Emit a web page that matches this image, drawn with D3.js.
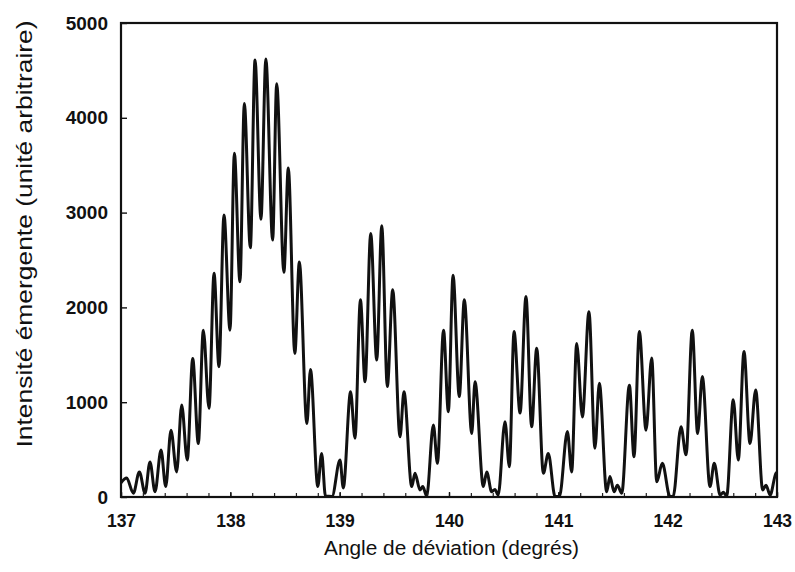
<!DOCTYPE html>
<html>
<head>
<meta charset="utf-8">
<script src="https://cdn.jsdelivr.net/npm/d3@7"></script>
<style>
  html, body { margin: 0; padding: 0; background: #fff; }
  svg { display: block; }
</style>
</head>
<body>
<svg id="chart" width="795" height="572"></svg>
<script>
// Angle de déviation (degrés) at each local extremum of the curve
const angles = [
  137.000, 137.052, 137.113, 137.168, 137.220, 137.265, 137.311, 137.366, 137.409, 137.457,
  137.509, 137.555, 137.606, 137.656, 137.707, 137.753, 137.805, 137.851, 137.896, 137.942,
  137.997, 138.037, 138.088, 138.128, 138.183, 138.226, 138.280, 138.325, 138.387, 138.424,
  138.490, 138.530, 138.590, 138.631, 138.700, 138.733, 138.800, 138.835, 138.870, 138.930,
  139.003, 139.033, 139.100, 139.140, 139.190, 139.232, 139.284, 139.339, 139.385, 139.436,
  139.485, 139.552, 139.588, 139.659, 139.689, 139.735, 139.760, 139.796, 139.857, 139.894,
  139.950, 139.994, 140.037, 140.094, 140.140, 140.208, 140.238, 140.314, 140.345, 140.390,
  140.420, 140.450, 140.512, 140.552, 140.595, 140.650, 140.704, 140.756, 140.802, 140.863,
  140.908, 140.970, 141.010, 141.083, 141.122, 141.168, 141.220, 141.280, 141.335, 141.375,
  141.442, 141.472, 141.510, 141.540, 141.580, 141.650, 141.692, 141.741, 141.802, 141.854,
  141.900, 141.951, 142.021, 142.050, 142.122, 142.168, 142.225, 142.274, 142.317, 142.387,
  142.426, 142.480, 142.510, 142.540, 142.600, 142.646, 142.698, 142.753, 142.805, 142.869,
  142.900, 142.937, 142.990, 143.000
];
// Intensité émergente (unité arbitraire)
const intensities = [
  150, 200, 40, 265, 40, 370, 55, 495, 110, 705,
  265, 970, 390, 1460, 565, 1760, 935, 2360, 1375, 2975,
  1760, 3625, 2270, 4150, 2630, 4610, 2930, 4620, 2710, 4360,
  2370, 3470, 1515, 2480, 775, 1345, 110, 460, 10, 5,
  390, 95, 1110, 620, 2080, 1215, 2780, 1445, 2860, 1165,
  2185, 635, 1110, 110, 250, 75, 110, 10, 760, 355,
  1760, 900, 2340, 1060, 2080, 670, 1215, 110, 265, 55,
  80, 20, 795, 320, 1745, 885, 2115, 740, 1570, 250,
  460, 5, 5, 690, 265, 1620, 845, 1955, 515, 1200,
  55, 215, 55, 125, 40, 1180, 425, 1745, 705, 1465,
  160, 355, 5, 5, 740, 445, 1760, 670, 1270, 110,
  355, 20, 50, 10, 1025, 390, 1535, 565, 1130, 75,
  125, 20, 250, 260
];
const xTicks = [137, 138, 139, 140, 141, 142, 143];
const xMinorTicks = d3.range(137, 143.001, 0.2).map(v => +v.toFixed(1));
const yTicks = [0, 1000, 2000, 3000, 4000, 5000];
const xTitle = "Angle de déviation (degrés)";
const yTitle = "Intensité émergente (unité arbitraire)";

const svg = d3.select("#chart");
const mLeft = 121, mRight = 777, mTop = 23, mBottom = 497;
const x = d3.scaleLinear().domain([137, 143]).range([mLeft, mRight]);
const y = d3.scaleLinear().domain([0, 5000]).range([mBottom, mTop]);

svg.append("rect").attr("width", 795).attr("height", 572).attr("fill", "#fff");

const data = angles.map((a, i) => ({ a, v: intensities[i] }));

// curve
svg.append("path")
  .datum(data)
  .attr("fill", "none")
  .attr("stroke", "#111")
  .attr("stroke-width", 3)
  .attr("stroke-linejoin", "round")
  .attr("d", d3.line().x(d => x(d.a)).y(d => y(d.v)).curve(d3.curveMonotoneX));

// minor x ticks
const gxm = svg.append("g").attr("transform", `translate(0,${mBottom})`)
  .call(d3.axisBottom(x).tickValues(xMinorTicks).tickSize(-4).tickFormat(""));
gxm.select(".domain").remove();
gxm.selectAll("line").attr("stroke", "#222").attr("stroke-width", 1.2);

// x axis
const gx = svg.append("g").attr("transform", `translate(0,${mBottom})`)
  .call(d3.axisBottom(x).tickValues(xTicks).tickSize(-5).tickPadding(18).tickFormat(d3.format("d")));
gx.select(".domain").remove();
gx.selectAll("line").attr("stroke", "#111").attr("stroke-width", 1.4);
gx.selectAll("text")
  .attr("fill", "#111")
  .style("font-family", "'Liberation Sans', Arial, sans-serif")
  .style("font-weight", "bold")
  .style("font-size", "17.5px");

// y axis
const gy = svg.append("g").attr("transform", `translate(${mLeft},0)`)
  .call(d3.axisLeft(y).tickValues(yTicks).tickSize(-6).tickPadding(13).tickFormat(d3.format("d")));
gy.select(".domain").remove();
gy.selectAll("line").attr("stroke", "#111").attr("stroke-width", 1.4);
gy.selectAll("text")
  .attr("fill", "#111")
  .style("font-family", "'Liberation Sans', Arial, sans-serif")
  .style("font-weight", "bold")
  .style("font-size", "19px");

// frame
svg.append("rect")
  .attr("x", mLeft).attr("y", mTop)
  .attr("width", mRight - mLeft).attr("height", mBottom - mTop)
  .attr("fill", "none").attr("stroke", "#111").attr("stroke-width", 2.2);

// titles
svg.append("text")
  .attr("x", 451.5).attr("y", 555)
  .attr("text-anchor", "middle")
  .attr("textLength", 255).attr("lengthAdjust", "spacingAndGlyphs")
  .attr("fill", "#111")
  .style("font-family", "'Liberation Sans', Arial, sans-serif")
  .style("font-size", "20.5px")
  .text(xTitle);

svg.append("text")
  .attr("transform", "translate(32,234) rotate(-90)")
  .attr("text-anchor", "middle")
  .attr("textLength", 427).attr("lengthAdjust", "spacingAndGlyphs")
  .attr("fill", "#111")
  .style("font-family", "'Liberation Sans', Arial, sans-serif")
  .style("font-size", "22.5px")
  .text(yTitle);
</script>
</body>
</html>
